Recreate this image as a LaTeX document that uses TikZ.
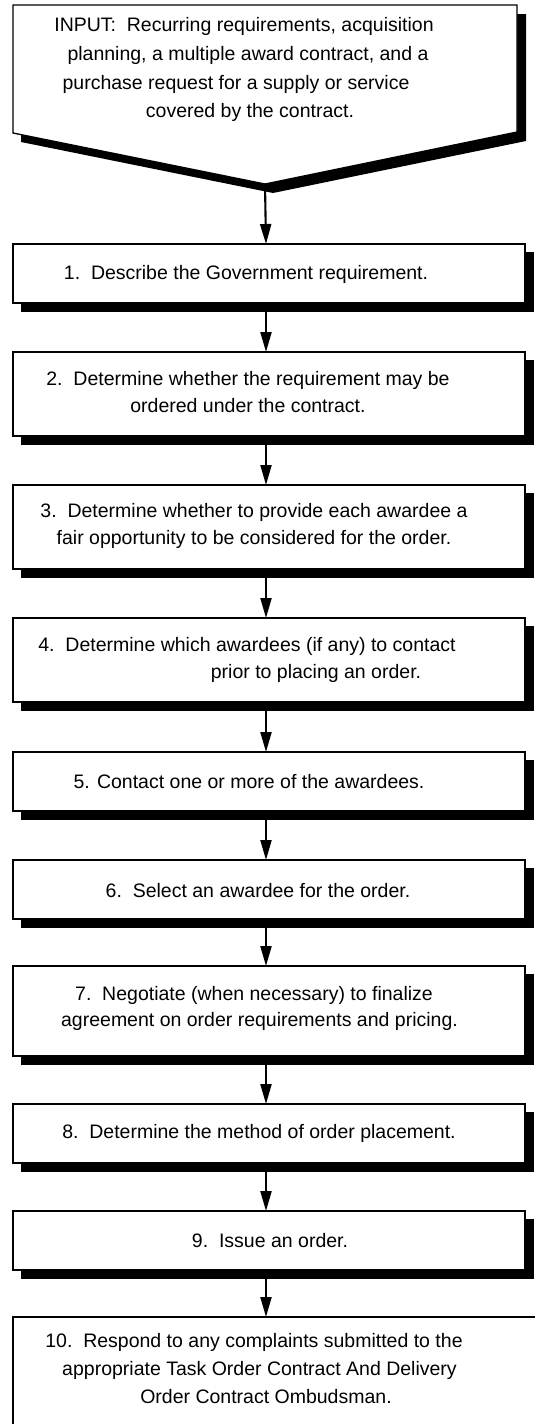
\documentclass[tikz,border=0pt]{standalone}
\usepackage{fontspec}
\setmainfont{Liberation Sans}
\usetikzlibrary{arrows.meta}
\begin{document}
\begin{tikzpicture}[x=1pt,y=-1pt,
  boxtxt/.style={font=\fontsize{19.5}{27}\selectfont, align=center, inner sep=0pt},
  arr/.style={line width=2.1pt, -{Triangle[length=20pt,width=11pt]}},
  shadowfill/.style={fill=black, draw=none},
  outline/.style={draw=black, line width=1.3pt, fill=white}]
\useasboundingbox (0,0) rectangle (535,1424);
\fill[white] (0,0) rectangle (535,1424);
% pentagon
\fill[shadowfill] (21,14) -- (526,14) -- (526,141) -- (273,193) -- (21,142) -- cycle;
\draw[outline] (13,5) -- (517,5) -- (517,132) -- (265,184) -- (13,133) -- cycle;
\coordinate (tip) at (265,184);
\node[boxtxt] (in1) at (244,26) {INPUT:\ \ Recurring requirements, acquisition};
\node[boxtxt] (in2) at (248,55) {planning, a multiple award contract, and a};
\node[boxtxt] (in3) at (236,84) {purchase request for a supply or service};
\node[boxtxt] (in4) at (250,112) {covered by the contract.};
% boxes: name, top, bottom
\foreach \n/\t/\b in {b1/244/303, b2/352/436, b3/485/569, b4/618/702, b5/752/811, b6/860/919, b7/966/1056, b8/1104/1163, b9/1211/1270}{
  \fill[shadowfill] (21,\t+8) rectangle (534,\b+9);
  \draw[outline] (13,\t) rectangle (525,\b);
  \coordinate (\n t) at (266,\t);
  \coordinate (\n b) at (266,\b);
}
\fill[shadowfill] (21,1325) rectangle (545,1440);
\draw[outline] (13,1317) rectangle (540,1430);
\coordinate (b10t) at (266,1317);
\node[boxtxt] (t1) at (246,274.5) {1.\ \ Describe the Government requirement.};
\node[boxtxt] (t2) at (248,392) {2.\ \ Determine whether the requirement may be\\ordered under the contract.};
\node[boxtxt] (t3) at (254,526) {3.\ \ Determine whether to provide each awardee a\\fair opportunity to be considered for the order.};
\node[boxtxt] (t4a) at (247,646) {4.\ \ Determine which awardees (if any) to contact};
\node[boxtxt] (t4b) at (316,673) {prior to placing an order.};
\node[boxtxt] (t5) at (249,781.5) {5. Contact one or more of the awardees.};
\node[boxtxt] (t6) at (258,890.5) {6.\ \ Select an awardee for the order.};
\node[boxtxt] (t7a) at (254,995) {7.\ \ Negotiate (when necessary) to finalize};
\node[boxtxt] (t7b) at (259.5,1021) {agreement on order requirements and pricing.};
\node[boxtxt] (t8) at (259,1133.5) {8.\ \ Determine the method of order placement.};
\node[boxtxt] (t9) at (270,1240.5) {9.\ \ Issue an order.};
\node[boxtxt] (t10a) at (254,1342) {10.\ \ Respond to any complaints submitted to the};
\node[boxtxt] (t10b) at (259.5,1370) {appropriate Task Order Contract And Delivery};
\node[boxtxt] (t10c) at (266,1397) {Order Contract Ombudsman.};
\draw[arr] (tip) -- (b1t);
\draw[arr] (b1b) -- (b2t);
\draw[arr] (b2b) -- (b3t);
\draw[arr] (b3b) -- (b4t);
\draw[arr] (b4b) -- (b5t);
\draw[arr] (b5b) -- (b6t);
\draw[arr] (b6b) -- (b7t);
\draw[arr] (b7b) -- (b8t);
\draw[arr] (b8b) -- (b9t);
\draw[arr] (b9b) -- (b10t);
\end{tikzpicture}
\end{document}
